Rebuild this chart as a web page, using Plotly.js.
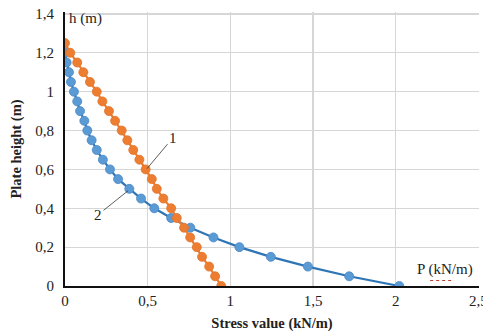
<!DOCTYPE html>
<html>
<head>
<meta charset="utf-8">
<script src="https://cdn.plot.ly/plotly-3.0.1.min.js"></script>
<style>html,body{margin:0;padding:0;background:#fff;}#chart{width:483px;height:336px;}</style>
</head>
<body>
<div id="chart"></div>
<script>
// Curve 2 (blue): height h (m) and stress P (kN/m)
const heights2 = [1.20,1.15,1.10,1.05,1.00,0.95,0.90,0.85,0.80,0.75,0.70,0.65,0.60,0.55,0.50,0.45,0.40,0.35,0.30,0.25,0.20,0.15,0.10,0.05,0.00];
const stress2  = [0,0.010,0.024,0.036,0.054,0.074,0.091,0.117,0.135,0.161,0.192,0.229,0.272,0.321,0.389,0.460,0.540,0.642,0.758,0.898,1.055,1.245,1.469,1.719,2.022];
// Curve 1 (orange)
const heights1 = [1.25,1.20,1.15,1.10,1.05,1.00,0.95,0.90,0.85,0.80,0.75,0.70,0.65,0.60,0.55,0.50,0.45,0.40,0.35,0.30,0.25,0.20,0.15,0.10,0.05,0.00];
const stress1  = [0,0.032,0.074,0.111,0.151,0.192,0.226,0.266,0.303,0.343,0.377,0.413,0.450,0.488,0.525,0.555,0.595,0.642,0.676,0.720,0.757,0.797,0.829,0.872,0.908,0.945];
const xTicks = [0,0.5,1,1.5,2,2.5];
const yTicks = [0,0.2,0.4,0.6,0.8,1,1.2,1.4];

const serif = "Liberation Serif";
const gridCol = '#d6d6d6';

const traces = [
  {x: stress2, y: heights2, mode: 'lines+markers', type: 'scatter',
   line: {color: '#2E75B6', width: 2.2},
   marker: {color: '#5B9BD5', size: 9, line: {color: '#4A87C4', width: 0.8}}},
  {x: stress1, y: heights1, mode: 'lines+markers', type: 'scatter',
   line: {color: '#ED7D31', width: 2.2},
   marker: {color: '#ED7D31', size: 9, line: {color: '#E0742B', width: 0.8}}}
];

const layout = {
  width: 483, height: 336,
  margin: {l: 65, r: 4, t: 12, b: 50},
  paper_bgcolor: '#fff', plot_bgcolor: '#fff',
  showlegend: false,
  separators: ', ',
  font: {family: serif, size: 15, color: '#222'},
  xaxis: {
    range: [0, 2.504], tickvals: xTicks, ticks: '', showgrid: true, gridcolor: gridCol, gridwidth: 1.2,
    zeroline: false, showline: true, linecolor: '#111', linewidth: 2,
    tickfont: {family: serif, size: 15, color: '#222'},
    ticklabeloverflow: 'allow',
    title: {text: '<b>Stress value (kN/m)</b>', font: {family: serif, size: 14.5, color: '#222'}, standoff: 10},
    fixedrange: true
  },
  yaxis: {
    range: [0, 1.41], tickvals: yTicks, ticks: '', showgrid: true, gridcolor: gridCol, gridwidth: 1.2,
    zeroline: false, showline: true, linecolor: '#111', linewidth: 2,
    tickfont: {family: serif, size: 15, color: '#222'},
    ticklabelstandoff: 6,
    title: {text: '<b>Plate height (m)</b>', font: {family: serif, size: 14.5, color: '#222'}, standoff: 10},
    fixedrange: true
  },
  annotations: [
    {xref: 'paper', yref: 'paper', x: 0.006, y: 0.978, xanchor: 'left', yanchor: 'middle', showarrow: false,
     text: 'h (m)', font: {family: serif, size: 15, color: '#222'}},
    {xref: 'paper', yref: 'paper', x: 0.99, y: 0.06, xanchor: 'right', yanchor: 'middle', showarrow: false,
     text: 'P (kN/m)', font: {family: serif, size: 15, color: '#222'}},
    {x: 0.496, y: 0.604, xref: 'x', yref: 'y', text: '1', showarrow: true, arrowhead: 0, arrowwidth: 0.8,
     arrowcolor: '#333', ax: 26, ay: -31, standoff: 0, font: {family: serif, size: 15, color: '#222'}},
    {x: 0.381, y: 0.49, xref: 'x', yref: 'y', text: '2', showarrow: true, arrowhead: 0, arrowwidth: 0.8,
     arrowcolor: '#333', ax: -30, ay: 24, standoff: 0, font: {family: serif, size: 15, color: '#222'}}
  ],
  shapes: [
    {type: 'line', xref: 'paper', yref: 'paper', x0: 0.882, x1: 0.937, y0: 0.02, y1: 0.02,
     line: {color: '#c0392b', width: 1, dash: 'dot'}}
  ]
};

Plotly.newPlot('chart', traces, layout, {displayModeBar: false, staticPlot: true});
</script>
</body>
</html>
